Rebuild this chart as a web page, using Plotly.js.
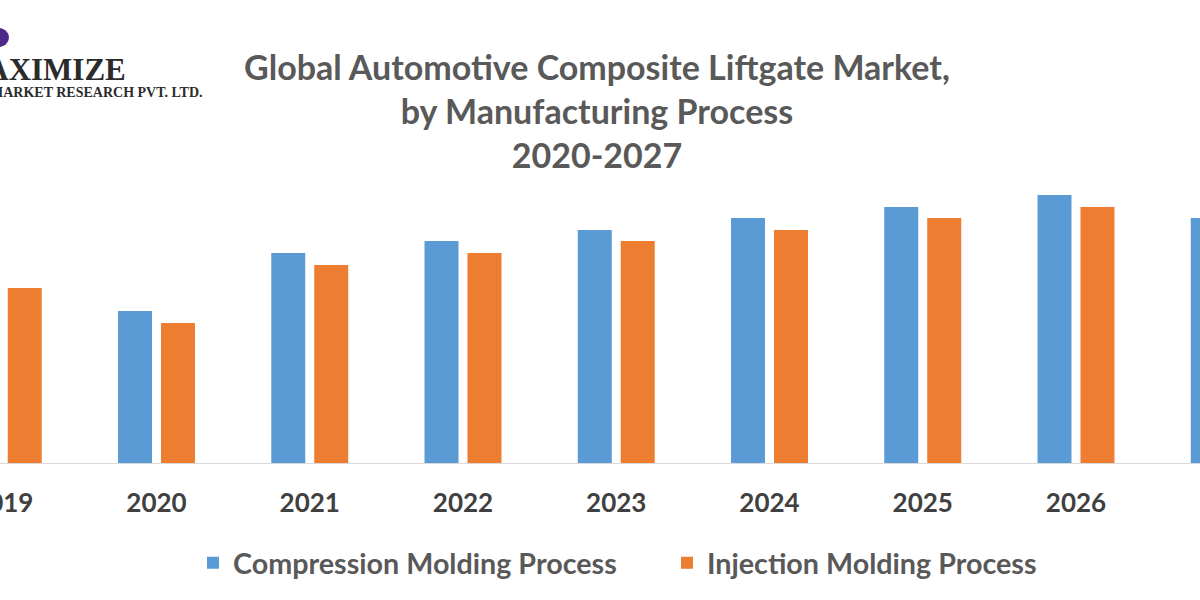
<!DOCTYPE html>
<html>
<head>
<meta charset="utf-8">
<script src="https://cdn.plot.ly/plotly-3.0.1.min.js"></script>
<style>html,body{margin:0;padding:0;background:#fff;}#chart{width:1200px;height:600px;}</style>
</head>
<body>
<div id="chart"></div>
<script>
var years = ['2019','2020','2021','2022','2023','2024','2025','2026','2027'];
var compression = [18.7, 15.2, 21.0, 22.2, 23.3, 24.5, 25.6, 26.8, 24.5];
var injection = [17.5, 14.0, 19.8, 21.0, 22.2, 23.3, 24.5, 25.6, 23.3];
var seriesNames = ['Compression Molding Process', 'Injection Molding Process'];
var titleText = 'Global Automotive Composite Liftgate Market,<br>by Manufacturing Process<br>2020-2027';

var idx = years.map(function(_, i){ return i; });
var font = 'Lato, "Open Sans", sans-serif';

var traces = [
  {type:'bar', x: idx, y: compression, name: seriesNames[0], marker:{color:'#5B9BD5'}, hoverinfo:'y+name'},
  {type:'bar', x: idx, y: injection, name: seriesNames[1], marker:{color:'#ED7D31'}, hoverinfo:'y+name'}
];

var leftIdx = -3.25/153.25;
var rightIdx = leftIdx + 1200/153.25;

var layout = {
  width: 1200, height: 600,
  margin: {l:0, r:0, t:163, b:137, pad:0},
  paper_bgcolor:'#ffffff', plot_bgcolor:'#ffffff',
  barmode:'group', bargap:0.439, bargroupgap:0.209,
  title: {text: titleText, x: 597/1200, xanchor:'center', xref:'container',
          y: 1 - 80/600, yref:'container', yanchor:'top',
          font:{family:font, size:34, color:'#595959', weight:700}},
  xaxis: {range:[leftIdx, rightIdx], tickmode:'array', tickvals: idx, ticktext: years,
          showgrid:false, zeroline:false, showline:true, linecolor:'#D9D9D9', linewidth:1,
          ticks:'', ticklabelstandoff: 17, ticklabeloverflow:'allow',
          tickfont:{family:font, size:26, color:'#404040', weight:700}},
  yaxis: {range:[0, 30], visible:false, showgrid:false, zeroline:false},
  showlegend:true,
  legend: {orientation:'h', x: 193/1200, xanchor:'left', y: 1 - 563/600, yref:'container', yanchor:'middle',
           font:{family:font, size:28.7, color:'#595959', weight:700}, traceorder:'normal', itemwidth:30,
           entrywidth:429},
  shapes: [
    {type:'circle', xref:'paper', yref:'paper', x0:-12/1200, x1:9/1200, y0:(463-47)/300, y1:(463-28)/300,
     fillcolor:'#4B2A8A', line:{width:0}}
  ],
  annotations: [
    {text:'MAXIMIZE', xref:'paper', yref:'paper', x:127/1200, xanchor:'right', y:(463-69)/300, yanchor:'middle',
     showarrow:false, borderpad:0, font:{family:'"Liberation Serif", "DejaVu Serif", serif', size:31, color:'#2b2b2b', weight:700}},
    {text:'MARKET RESEARCH PVT. LTD.', xref:'paper', yref:'paper', x:204/1200, xanchor:'right', y:(463-93)/300, yanchor:'middle',
     showarrow:false, borderpad:0, font:{family:'"Liberation Serif", "DejaVu Serif", serif', size:14, color:'#2b2b2b', weight:700}}
  ]
};

Plotly.newPlot('chart', traces, layout, {displayModeBar:false, staticPlot:true});
</script>
</body>
</html>
